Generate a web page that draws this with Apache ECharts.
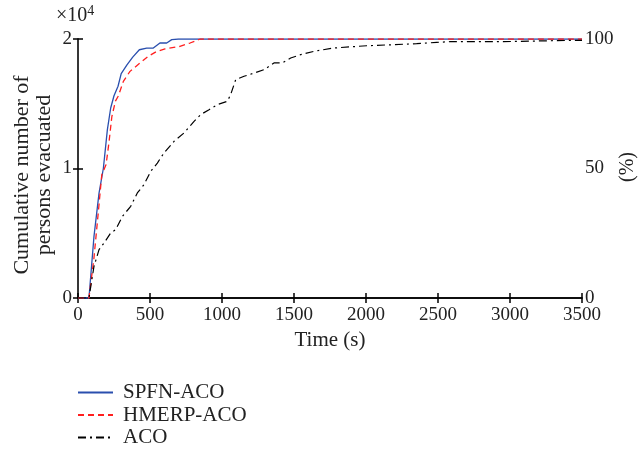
<!DOCTYPE html>
<html>
<head>
<meta charset="utf-8">
<script src="https://cdn.jsdelivr.net/npm/echarts@6/dist/echarts.min.js"></script>
<style>html,body{margin:0;padding:0;background:#fff;}#c{width:638px;height:454px;}</style>
</head>
<body>
<div id="c"></div>
<script>
var seriesNames = ['SPFN-ACO', 'HMERP-ACO', 'ACO'];
var xTicks = [0, 500, 1000, 1500, 2000, 2500, 3000, 3500];
var leftTicks = [0, 10000, 20000];
var rightTicks = [0, 50, 100];

var spfnTime  = [0, 76, 111, 146, 176, 204, 227, 250, 278, 300, 340, 380, 426, 477, 523, 569, 616, 651, 697, 3500];
var spfnCount = [0, 0, 4760, 8100, 10000, 13000, 14670, 15620, 16350, 17320, 18000, 18600, 19170, 19300, 19300, 19690, 19690, 19950, 20000, 20000];

var hmerpTime  = [0, 76, 110, 140, 165, 195, 215, 235, 260, 280, 315, 361, 431, 488, 546, 604, 708, 778, 847, 3500];
var hmerpCount = [0, 0, 3000, 6500, 9500, 10300, 12000, 14000, 15200, 15600, 16730, 17500, 18150, 18660, 19040, 19230, 19430, 19690, 20000, 20000];

var acoTime  = [0, 76, 111, 146, 181, 227, 262, 308, 366, 412, 458, 505, 551, 597, 667, 736, 806, 852, 910, 968, 1037, 1060, 1095, 1153, 1222, 1292, 1361, 1419, 1477, 1546, 1639, 1773, 2005, 2190, 2352, 2491, 2583, 2931, 3162, 3463, 3500];
var acoCount = [0, 0, 2445, 3730, 4250, 5020, 5280, 6300, 7080, 8110, 8750, 9780, 10420, 11200, 12100, 12740, 13640, 14160, 14540, 14930, 15190, 15700, 16860, 17120, 17370, 17630, 18150, 18150, 18530, 18790, 19050, 19300, 19480, 19560, 19640, 19740, 19790, 19790, 19840, 19900, 19900];

function pairs(t, v) { return t.map(function (x, i) { return [x, v[i]]; }); }

var FONT = 'Liberation Serif';
var tickTxt = {fontFamily: FONT, fontSize: 19, color: '#222'};
var nameTxt = {fontFamily: FONT, fontSize: 21, color: '#222'};

var chart = echarts.init(document.getElementById('c'), null, {renderer: 'canvas'});
chart.setOption({
  animation: false,
  backgroundColor: '#fff',
  grid: {left: 78, right: 56, top: 39, bottom: 156, outerBoundsMode: 'none', containLabel: false},
  graphic: [{
    type: 'text', left: 56, top: 4,
    style: {
      text: '×10{sup|4}',
      fontFamily: FONT, fontSize: 20, fill: '#222',
      rich: {sup: {fontFamily: FONT, fontSize: 14, fill: '#222', verticalAlign: 'top', padding: [0, 0, 9, 0]}}
    }
  }, {
    type: 'text', x: 33, y: 175, rotation: Math.PI / 2,
    style: {
      text: 'Cumulative number of\npersons evacuated',
      fontFamily: FONT, fontSize: 22, lineHeight: 22, fill: '#222',
      align: 'center', verticalAlign: 'middle'
    }
  }, {
    type: 'text', x: 628, y: 167, rotation: Math.PI / 2,
    style: {
      text: '(%)',
      fontFamily: FONT, fontSize: 20, fill: '#222',
      align: 'center', verticalAlign: 'middle'
    }
  }],
  legend: {
    orient: 'vertical', left: 77, top: 382, padding: 0,
    itemWidth: 35, itemHeight: 14, itemGap: 1.5,
    itemStyle: {opacity: 0, borderWidth: 0},
    textStyle: {fontFamily: FONT, fontSize: 21, color: '#222', lineHeight: 18, padding: [0, 0, 0, 5]},
    data: seriesNames
  },
  xAxis: [{
    type: 'value', min: xTicks[0], max: xTicks[xTicks.length - 1], interval: 500,
    position: 'bottom',
    name: 'Time (s)', nameLocation: 'middle', nameGap: 32,
    nameTextStyle: nameTxt,
    axisLine: {lineStyle: {color: '#000', width: 1.5}},
    axisTick: {inside: true, length: 5, lineStyle: {color: '#000', width: 1.5}},
    axisLabel: Object.assign({margin: 8, formatter: function (v) { return String(v); }}, tickTxt),
    splitLine: {show: false}
  }, {
    type: 'value', min: xTicks[0], max: xTicks[xTicks.length - 1], interval: 500,
    position: 'top',
    axisLine: {show: true, lineStyle: {color: '#000', width: 1.5}},
    axisTick: {show: true, inside: true, length: 5, lineStyle: {color: '#000', width: 1.5}},
    axisLabel: {show: false},
    splitLine: {show: false}
  }],
  yAxis: [{
    type: 'value', min: leftTicks[0], max: leftTicks[leftTicks.length - 1], interval: 10000,
    position: 'left',
    axisLine: {show: true, lineStyle: {color: '#000', width: 1.5}},
    axisTick: {show: true, inside: true, length: 5, lineStyle: {color: '#000', width: 1.5}},
    axisLabel: Object.assign({margin: 6, formatter: function (v) { return String(v / 10000); }}, tickTxt),
    splitLine: {show: false}
  }, {
    type: 'value', min: rightTicks[0], max: rightTicks[rightTicks.length - 1], interval: 50,
    position: 'right',
    axisLine: {show: true, lineStyle: {color: '#333', width: 1.5}},
    axisTick: {show: true, inside: true, length: 5, lineStyle: {color: '#000', width: 1.5}},
    axisLabel: Object.assign({margin: 3}, tickTxt),
    splitLine: {show: false}
  }],
  series: [{
    name: seriesNames[0], type: 'line', symbol: 'none', xAxisIndex: 0, yAxisIndex: 0,
    lineStyle: {color: '#2a4fae', width: 1.3}, itemStyle: {color: '#2a4fae'},
    data: pairs(spfnTime, spfnCount)
  }, {
    name: seriesNames[1], type: 'line', symbol: 'none', xAxisIndex: 0, yAxisIndex: 0,
    lineStyle: {color: '#ff1f1f', width: 1.3, type: [6, 4]}, itemStyle: {color: '#ff1f1f'},
    data: pairs(hmerpTime, hmerpCount)
  }, {
    name: seriesNames[2], type: 'line', symbol: 'none', xAxisIndex: 0, yAxisIndex: 0,
    lineStyle: {color: '#000', width: 1.2, type: [8, 4, 2, 4]}, itemStyle: {color: '#000'},
    data: pairs(acoTime, acoCount)
  }]
});
</script>
</body>
</html>
